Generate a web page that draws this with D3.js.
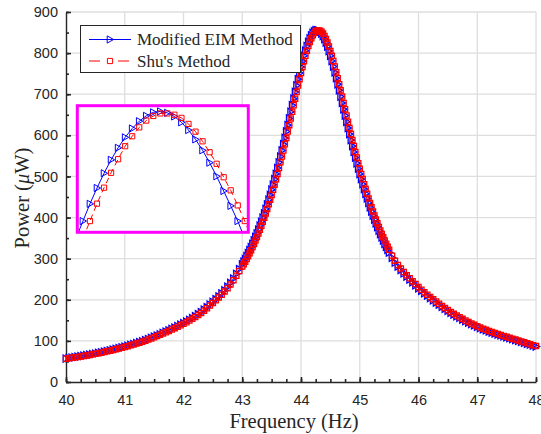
<!DOCTYPE html>
<html>
<head>
<meta charset="utf-8">
<script src="https://cdn.jsdelivr.net/npm/d3@7"></script>
<style>
  body { margin: 0; background: #fff; }
  svg { display: block; }
  .tick text { font-family: "Liberation Sans", Arial, sans-serif; font-size: 14.5px; fill: #262626; }
  .serif { font-family: "Liberation Serif", "Times New Roman", serif; fill: #262626; }
</style>
</head>
<body>
<div id="chart"></div>
<script>
// frequency samples (Hz) shared by both methods
const freq = [
  // 40 .. 42.95
  40.00, 40.05, 40.10, 40.15, 40.20, 40.25, 40.30, 40.35, 40.40, 40.45,
  40.50, 40.55, 40.60, 40.65, 40.70, 40.75, 40.80, 40.85, 40.90, 40.95,
  41.00, 41.05, 41.10, 41.15, 41.20, 41.25, 41.30, 41.35, 41.40, 41.45,
  41.50, 41.55, 41.60, 41.65, 41.70, 41.75, 41.80, 41.85, 41.90, 41.95,
  42.00, 42.05, 42.10, 42.15, 42.20, 42.25, 42.30, 42.35, 42.40, 42.45,
  42.50, 42.55, 42.60, 42.65, 42.70, 42.75, 42.80, 42.85, 42.90, 42.95,
  // 43 .. 45.5, finer around the peak
  43, 43.025, 43.05, 43.075, 43.1, 43.125, 43.15, 43.175, 43.2, 43.225,
  43.25, 43.275, 43.3, 43.325, 43.35, 43.375, 43.4, 43.425, 43.45, 43.475,
  43.5, 43.525, 43.55, 43.575, 43.6, 43.625, 43.65, 43.675, 43.7, 43.725,
  43.75, 43.775, 43.8, 43.825, 43.85, 43.875, 43.9, 43.925, 43.95, 43.975,
  44, 44.025, 44.05, 44.075, 44.1, 44.125, 44.15, 44.175, 44.2, 44.225,
  44.25, 44.275, 44.3, 44.325, 44.35, 44.375, 44.4, 44.425, 44.45, 44.475,
  44.5, 44.525, 44.55, 44.575, 44.6, 44.625, 44.65, 44.675, 44.7, 44.725,
  44.75, 44.775, 44.8, 44.825, 44.85, 44.875, 44.9, 44.925, 44.95, 44.975,
  45, 45.025, 45.05, 45.075, 45.1, 45.125, 45.15, 45.175, 45.2, 45.225,
  45.25, 45.275, 45.3, 45.325, 45.35, 45.375, 45.4, 45.425, 45.45, 45.475,
  45.5,
  // 45.55 .. 48
  45.55, 45.60, 45.65, 45.70, 45.75, 45.80, 45.85, 45.90, 45.95, 46.00,
  46.05, 46.10, 46.15, 46.20, 46.25, 46.30, 46.35, 46.40, 46.45, 46.50,
  46.55, 46.60, 46.65, 46.70, 46.75, 46.80, 46.85, 46.90, 46.95, 47.00,
  47.05, 47.10, 47.15, 47.20, 47.25, 47.30, 47.35, 47.40, 47.45, 47.50,
  47.55, 47.60, 47.65, 47.70, 47.75, 47.80, 47.85, 47.90, 47.95, 48.00
];

// Modified EIM Method (uW)
const eimPower = [
  57, 58.1, 59.2, 60.3, 61.5, 62.7, 63.9, 65.1, 66.4, 67.7,
  69, 70.5, 72, 73.6, 75.2, 76.9, 78.6, 80.4, 82.2, 84.1,
  86, 88, 90, 92.1, 94.3, 96.6, 99, 101.6, 104.3, 107.1,
  110, 113, 116, 119.1, 122.3, 125.6, 129, 132.4, 135.9, 139.4,
  143, 147, 151, 155.4, 160, 164.9, 170, 175.8, 182, 188.4,
  195, 201.4, 208, 215.3, 223, 231.7, 241, 251.6, 263, 274.6,

  286.2, 292.5, 299.0, 305.8, 313.3, 320.6, 328.2, 335.9, 344.3, 352.8,
  361.3, 370.4, 380.1, 389.6, 399.8, 410.0, 421.0, 432.1, 443.3, 455.1,
  467.8, 480.1, 493.1, 506.2, 520.4, 534.3, 548.4, 563.2, 578.4, 593.6,
  609.3, 624.8, 641.2, 657.2, 673.2, 689.2, 705.5, 721.2, 736.7, 751.7,
  766.3, 780.4, 793.5, 805.8, 817.1, 827.1, 835.9, 843.2, 848.9, 853.0,
  855.4, 856.0, 854.8, 851.9, 847.5, 841.6, 834.3, 825.7, 815.9, 805.0,
  793.3, 780.7, 767.4, 753.5, 739.1, 724.4, 709.4, 694.2, 678.9, 663.6,
  648.3, 633.1, 618.0, 603.1, 588.4, 573.9, 559.7, 545.9, 532.3, 519.0,
  506.1, 493.5, 481.3, 469.4, 457.8, 446.6, 435.7, 425.2, 414.9, 405.0,
  395.4, 386.1, 377.1, 368.4, 360.0, 351.8, 343.9, 336.2, 328.8, 321.7,
  314.8,

  302.3, 290.4, 281.1, 272.4, 264.3, 256.6, 249.4, 242.6, 235.2, 228,
  221.9, 216, 210.2, 204.5, 198.9, 193.5, 188.2, 183, 177.9, 173,
  168.4, 164, 159.9, 156, 152, 148, 144.4, 141, 137.7, 134.5,
  131.4, 128.5, 125.7, 123, 120.5, 118, 115.7, 113.5, 111.2, 109,
  106.7, 104.5, 102.2, 100, 97.7, 95.5, 93.2, 91, 88.7, 86.5
];

// Shu's Method (uW)
const shuPower = [
  56.6, 57.7, 58.8, 59.9, 61.0, 62.2, 63.4, 64.6, 65.9, 67.2,
  68.5, 69.9, 71.4, 73.0, 74.6, 76.2, 77.9, 79.7, 81.5, 83.3,
  85.2, 87.2, 89.2, 91.3, 93.4, 95.7, 98.0, 100.6, 103.2, 106.0,
  108.8, 111.8, 114.8, 117.9, 121.0, 124.3, 127.6, 131.0, 134.5, 138.0,
  141.6, 145.4, 149.4, 153.6, 158.2, 162.9, 168.0, 173.5, 179.5, 185.8,
  192.4, 198.8, 205.4, 212.4, 219.9, 228.2, 237.3, 247.4, 258.4, 270.0,

  281.0, 286.2, 292.5, 299.0, 305.8, 313.3, 320.6, 328.2, 335.9, 344.3,
  352.8, 361.3, 370.4, 380.1, 389.6, 399.8, 410.0, 421.0, 432.1, 443.3,
  455.1, 467.8, 480.1, 493.1, 506.2, 520.4, 534.3, 548.4, 563.2, 578.4,
  593.6, 609.3, 624.8, 641.2, 657.2, 673.2, 689.2, 705.5, 721.2, 736.7,
  751.7, 766.3, 780.4, 793.5, 805.8, 817.1, 827.1, 835.9, 843.2, 848.9,
  853.0, 855.0, 855.2, 854.6, 851.9, 847.5, 841.6, 834.3, 825.7, 815.9,
  805.0, 793.3, 780.7, 767.4, 753.5, 739.1, 724.4, 709.4, 694.2, 678.9,
  663.6, 648.3, 633.1, 618.0, 603.1, 588.4, 573.9, 559.7, 545.9, 532.3,
  519.0, 506.1, 493.5, 481.3, 469.4, 457.8, 446.6, 435.7, 425.2, 414.9,
  405.0, 395.4, 386.1, 377.1, 368.4, 360.0, 351.8, 343.9, 336.2, 328.8,
  321.7,

  307.3, 295.2, 284.8, 275.9, 267.5, 259.7, 252.3, 245.3, 238.2, 230.9,
  224.3, 218.4, 212.5, 206.8, 201.1, 195.7, 190.3, 185.1, 179.9, 175.0,
  170.2, 165.8, 161.5, 157.6, 153.6, 149.6, 145.8, 142.4, 139.0, 135.8,
  132.6, 129.7, 126.8, 124.1, 121.5, 119.0, 116.6, 114.4, 112.1, 109.9,
  107.6, 105.4, 103.1, 100.9, 98.6, 96.4, 94.1, 91.9, 89.6, 87.4
];

// zoomed view of the peak (inset)
const insetEimFreq = [44.16, 44.17, 44.18, 44.19, 44.20, 44.21, 44.22, 44.23, 44.24, 44.25,
  44.26, 44.27, 44.28, 44.29, 44.30, 44.31, 44.32, 44.33, 44.34, 44.35,
  44.36, 44.37, 44.38, 44.39, 44.40];
const insetEimPower = [776, 787.1, 798.0, 808.0, 817.3, 825.8, 833.4, 840.0, 845.6, 850.2,
  853.6, 855.8, 856.4, 855.5, 853.2, 849.5, 844.6, 838.7, 831.8, 824.0,
  815.4, 806.1, 796.7, 787.1, 776];
const insetShuFreq = [44.17, 44.18, 44.19, 44.20, 44.21, 44.22, 44.23, 44.24, 44.25, 44.26,
  44.27, 44.28, 44.29, 44.30, 44.31, 44.32, 44.33, 44.34, 44.35, 44.36,
  44.37, 44.38, 44.39, 44.40, 44.41];
const insetShuPower = [776, 787.1, 798.1, 808.2, 817.6, 826.2, 834.4, 840.7, 846.3, 850.6,
  853.5, 855.1, 855.1, 854.3, 852.3, 848.5, 843.6, 837.5, 830.6, 823.3,
  814.8, 806.5, 797.0, 787.1, 776];

const xTicks = [40, 41, 42, 43, 44, 45, 46, 47, 48];
const yTicks = [0, 100, 200, 300, 400, 500, 600, 700, 800, 900];
const seriesNames = ["Modified EIM Method", "Shu's Method"];

const BLUE = "#0000ff";
const RED = "#ff0000";
const MAGENTA = "#ff00ff";
const AXIS = "#262626";

var w = 541;
var h = 434;
var margin = { top: 12, right: 5, bottom: 52, left: 66 };

var svg = d3.select("#chart").append("svg")
  .attr("width", w)
  .attr("height", h);

var x = d3.scaleLinear().domain([40, 48]).range([margin.left, w - margin.right]);
var y = d3.scaleLinear().domain([0, 900]).range([h - margin.bottom, margin.top]);

///////////////////////////// grid

var grid = svg.append("g").attr("stroke", "#dedede").attr("stroke-width", 1.3);
grid.selectAll(".gx").data(xTicks.slice(1)).join("line")
  .attr("x1", d => x(d)).attr("x2", d => x(d))
  .attr("y1", y(0)).attr("y2", y(900));
grid.selectAll(".gy").data(yTicks.slice(1)).join("line")
  .attr("x1", x(40)).attr("x2", x(48))
  .attr("y1", d => y(d)).attr("y2", d => y(d));

///////////////////////////// axes

function styleAxis(g) {
  g.select(".domain").attr("stroke", AXIS).attr("stroke-width", 1.4);
  g.selectAll(".tick line").attr("stroke", AXIS).attr("stroke-width", 1.6);
}

var xAxis = svg.append("g")
  .attr("transform", "translate(0," + y(0) + ")")
  .call(d3.axisBottom(x).tickValues(xTicks).tickSizeInner(-5).tickSizeOuter(0).tickPadding(13));
styleAxis(xAxis);

svg.append("g")
  .attr("transform", "translate(0," + y(0) + ")")
  .call(d3.axisBottom(x).tickValues(d3.range(40, 48.01, 0.25)).tickSize(-3).tickFormat(""))
  .call(g => g.select(".domain").remove())
  .call(styleAxis);

var yAxis = svg.append("g")
  .attr("transform", "translate(" + x(40) + ",0)")
  .call(d3.axisLeft(y).tickValues(yTicks).tickSizeInner(-5).tickSizeOuter(0).tickPadding(8));
styleAxis(yAxis);

svg.append("g")
  .attr("transform", "translate(" + x(40) + ",0)")
  .call(d3.axisLeft(y).tickValues(d3.range(0, 901, 50)).tickSize(-3).tickFormat(""))
  .call(g => g.select(".domain").remove())
  .call(styleAxis);

///////////////////////////// axis titles

svg.append("text")
  .attr("class", "serif")
  .attr("x", 294)
  .attr("y", 428)
  .attr("text-anchor", "middle")
  .attr("font-size", 20.5)
  .text("Frequency (Hz)");

var yTitle = svg.append("text")
  .attr("class", "serif")
  .attr("transform", "translate(29,198) rotate(-90)")
  .attr("text-anchor", "middle")
  .attr("font-size", 20.5);
yTitle.append("tspan").text("Power (");
yTitle.append("tspan").attr("font-style", "italic").text("\u03bc");
yTitle.append("tspan").text("W)");

///////////////////////////// series

var triangle = "M-2.8,-3.6L3.6,0L-2.8,3.6Z";
var square = "M-2.6,-2.6H2.6V2.6H-2.6Z";

function drawSeries(parent, xs, ys, fs, ps, color, dash, marker, mw) {
  var pts = d3.zip(fs, ps);
  var line = d3.line().x(d => xs(d[0])).y(d => ys(d[1]));
  parent.append("path")
    .datum(pts)
    .attr("fill", "none")
    .attr("stroke", color)
    .attr("stroke-width", 1)
    .attr("stroke-dasharray", dash)
    .attr("d", line);
  parent.append("g").selectAll("path").data(pts).join("path")
    .attr("transform", d => "translate(" + xs(d[0]) + "," + ys(d[1]) + ")")
    .attr("d", marker)
    .attr("fill", "none")
    .attr("stroke", color)
    .attr("stroke-width", mw);
}

var plot = svg.append("g");
drawSeries(plot, x, y, freq, eimPower, BLUE, null, triangle, 1.3);
drawSeries(plot, x, y, freq, shuPower, RED, "6,4", square, 1.3);

///////////////////////////// inset

var box = { left: 77.3, top: 105.7, width: 171, height: 126.6 };

var ix = d3.scaleLinear().domain([44.162, 44.405]).range([box.left, box.left + box.width]);
var iy = d3.scaleLinear().domain([780, 860]).range([box.top + box.height, box.top]);

svg.append("clipPath").attr("id", "insetClip")
  .append("rect")
  .attr("x", box.left).attr("y", box.top)
  .attr("width", box.width).attr("height", box.height);

svg.append("rect")
  .attr("x", box.left).attr("y", box.top)
  .attr("width", box.width).attr("height", box.height)
  .attr("fill", "#fff");

var inset = svg.append("g").attr("clip-path", "url(#insetClip)");
drawSeries(inset, ix, iy, insetEimFreq, insetEimPower, BLUE, null, triangle, 1);
drawSeries(inset, ix, iy, insetShuFreq, insetShuPower, RED, "6,4", square, 1);

svg.append("rect")
  .attr("x", box.left).attr("y", box.top)
  .attr("width", box.width).attr("height", box.height)
  .attr("fill", "none")
  .attr("stroke", MAGENTA)
  .attr("stroke-width", 3);

///////////////////////////// legend

var legend = svg.append("g");
legend.append("rect")
  .attr("x", 80.5).attr("y", 25.5)
  .attr("width", 220).attr("height", 47)
  .attr("fill", "#fff")
  .attr("stroke", AXIS)
  .attr("stroke-width", 1);

var legendItems = [
  { name: seriesNames[0], color: BLUE, dash: null, marker: triangle },
  { name: seriesNames[1], color: RED, dash: "11,18", marker: square }
];

legendItems.forEach(function (item, i) {
  var ly = 39.5 + i * 21.5;
  legend.append("line")
    .attr("x1", 89).attr("x2", 131)
    .attr("y1", ly).attr("y2", ly)
    .attr("stroke", item.color)
    .attr("stroke-width", 1)
    .attr("stroke-dasharray", item.dash);
  legend.append("path")
    .attr("transform", "translate(110," + ly + ")")
    .attr("d", item.marker)
    .attr("fill", "none")
    .attr("stroke", item.color);
  legend.append("text")
    .attr("class", "serif")
    .attr("x", 137)
    .attr("y", ly)
    .attr("dy", "0.35em")
    .attr("font-size", 17)
    .text(item.name);
});
</script>
</body>
</html>
